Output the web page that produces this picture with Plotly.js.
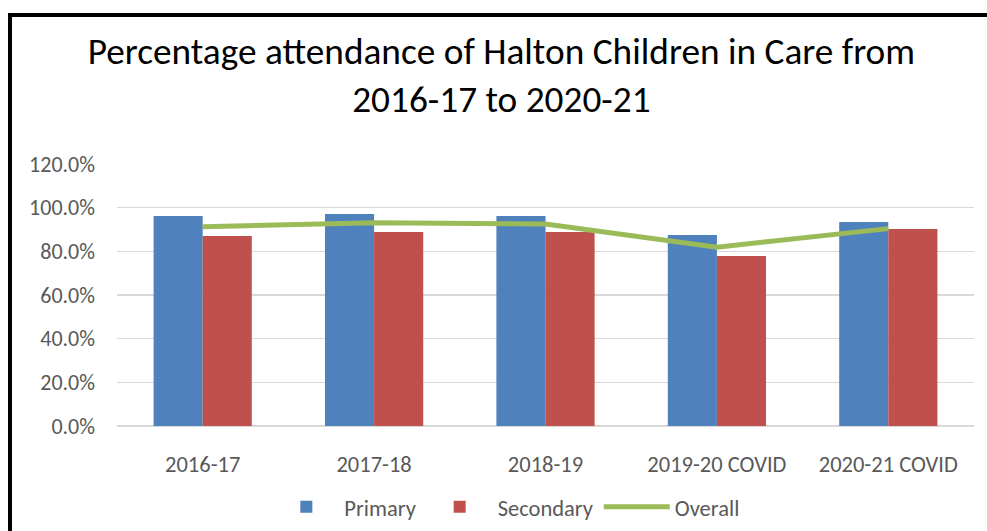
<!DOCTYPE html>
<html>
<head>
<meta charset="utf-8">
<script src="https://cdn.plot.ly/plotly-3.0.1.min.js"></script>
<style>
html, body { margin: 0; padding: 0; overflow: hidden; background: #fff; }
#chart { width: 987px; height: 531px; }
#frame { position: absolute; left: 8px; top: 13px; width: 1100px; height: 700px;
  border-left: 4px solid #000; border-top: 4px solid #000; pointer-events: none; box-sizing: border-box; }
</style>
</head>
<body>
<div id="chart"></div>
<div id="frame"></div>
<script>
const categories = ["2016-17", "2017-18", "2018-19", "2019-20 COVID", "2020-21 COVID"];
const primary = [96.2, 97.1, 96.2, 87.5, 93.4];
const secondary = [87.0, 88.9, 88.9, 77.9, 90.2];
const overall = [91.3, 93.1, 92.5, 81.9, 90.4];
const yTicks = [0, 20, 40, 60, 80, 100, 120];
const yTickLabels = ["0.0%", "20.0%", "40.0%", "60.0%", "80.0%", "100.0%", "120.0%"];

const FONT = "Carlito, 'Liberation Sans Narrow', 'Open Sans', sans-serif";

const traces = [
  { type: "bar", name: "Primary", x: categories, y: primary, marker: { color: "#4F81BD" } },
  { type: "bar", name: "Secondary", x: categories, y: secondary, marker: { color: "#C0504D" } },
  { type: "scatter", mode: "lines", name: "Overall", x: categories, y: overall,
    line: { color: "#9BBB59", width: 5 } }
];

const layout = {
  width: 987, height: 531,
  margin: { l: 117, r: 13, t: 164, b: 105 },
  paper_bgcolor: "#fff", plot_bgcolor: "#fff",
  font: { family: FONT, color: "#595959", size: 22 },
  title: {
    text: "Percentage attendance of Halton Children in Care from<br>2016-17 to 2020-21",
    font: { family: FONT, size: 37.3, color: "#000" },
    xref: "container", x: 0.508, xanchor: "center",
    yref: "container", y: 0.88, yanchor: "middle"
  },
  barmode: "group",
  bargap: 0.427,
  bargroupgap: 0,
  xaxis: {
    type: "category", showgrid: false, zeroline: false, showline: false, ticks: "",
    ticklabelstandoff: 22, tickfont: { size: 22.5, color: "#595959" }
  },
  yaxis: {
    range: [0, 120], tickvals: yTicks, ticktext: yTickLabels,
    showgrid: true, gridcolor: "#D9D9D9", gridwidth: 1.5,
    zeroline: true, zerolinecolor: "#D9D9D9", zerolinewidth: 1.5,
    showline: false, ticks: "", ticklabelstandoff: 21,
    tickfont: { size: 22, color: "#595959" }
  },
  showlegend: true,
  legend: {
    orientation: "h", xref: "container", x: 0.513, xanchor: "center",
    yref: "container", y: 0.045, yanchor: "middle",
    font: { size: 22.5, color: "#595959" }, itemwidth: 66, traceorder: "normal"
  }
};

Plotly.newPlot("chart", traces, layout, { displayModeBar: false, staticPlot: true });
</script>
</body>
</html>
